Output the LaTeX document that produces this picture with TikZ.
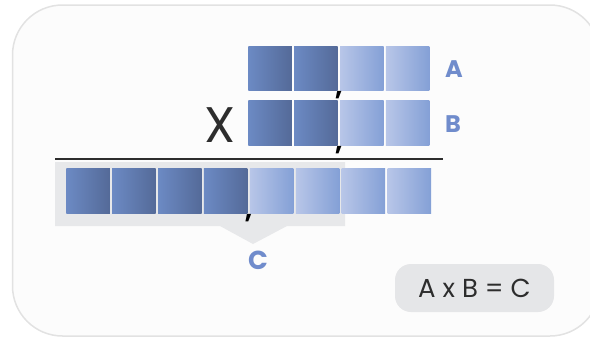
\documentclass[tikz,border=0pt]{standalone}
\usepackage{fontspec}
\setmainfont{Poppins}
\usetikzlibrary{positioning, calc}

\definecolor{framegray}{RGB}{226,226,226}
\definecolor{panelwhite}{RGB}{252,252,252}
\definecolor{tabgray}{RGB}{231,232,234}
\definecolor{boxgray}{RGB}{229,230,232}
\definecolor{inkgray}{RGB}{45,45,45}
\definecolor{labelblue}{RGB}{112,140,204}
\definecolor{deepleft}{RGB}{108,138,196}
\definecolor{deepright}{RGB}{84,106,152}
\definecolor{paleleft}{RGB}{184,198,232}
\definecolor{paleright}{RGB}{132,160,214}

\tikzset{
  darkcell/.style={inner sep=0pt, minimum width=43.5pt, minimum height=44.5pt,
    left color=deepleft, right color=deepright},
  lightcell/.style={inner sep=0pt, minimum width=43.5pt, minimum height=44.5pt,
    left color=paleleft, right color=paleright},
  rowlabel/.style={anchor=base, inner sep=0pt, text=labelblue,
    font=\fontsize{24}{24}\selectfont\bfseries},
  sepcomma/.style={anchor=base, inner sep=0pt, font=\fontsize{26}{26}\selectfont\bfseries}
}

\begin{document}
\begin{tikzpicture}[x=1pt, y=-1pt]
			\useasboundingbox (0,0) rectangle (590,338);
			
			% Panel
			\draw[framegray, line width=1.5pt, fill=panelwhite, rounded corners=50pt]
			  (12.5,5) rectangle (600,336);
			
			% Tab behind the result
			\fill[tabgray] (55,162) -- (345,162) -- (345,226) -- (287,226) -- (253,244)
			  -- (220,226) -- (55,226) -- cycle;
			
			% Factor A
			\node[darkcell] (a1) at (270,68.5) {};
			\node[darkcell, right=2pt of a1] (a2) {};
			\node[lightcell, right=2pt of a2] (a3) {};
			\node[lightcell, right=2pt of a3] (a4) {};
			\node[sepcomma] (commaA) at ($(a2.south east)!0.5!(a3.south west)+(0,5)$) {,};
			\node[rowlabel] (labA) at (454,77) {A};
			
			% Factor B
			\node[darkcell] (b1) at (270,123) {};
			\node[darkcell, right=2pt of b1] (b2) {};
			\node[lightcell, right=2pt of b2] (b3) {};
			\node[lightcell, right=2pt of b3] (b4) {};
			\node[sepcomma] (commaB) at ($(b2.south east)!0.5!(b3.south west)+(0,5)$) {,};
			\node[rowlabel] (labB) at (453,132) {B};
			
			\node[text=inkgray, font=\fontsize{50}{50}\selectfont] (times) at (220,125) {X};
			
			% Rule
			\draw[inkgray, line width=2pt] (55,159) -- (443,159);
			
			% Product C
			\node[darkcell] (c1) at (88,191) {};
			\node[darkcell, right=2pt of c1] (c2) {};
			\node[darkcell, right=2pt of c2] (c3) {};
			\node[darkcell, right=2pt of c3] (c4) {};
			\node[lightcell, right=2pt of c4] (c5) {};
			\node[lightcell, right=2pt of c5] (c6) {};
			\node[lightcell, right=2pt of c6] (c7) {};
			\node[lightcell, right=2pt of c7] (c8) {};
			\node[sepcomma] (commaC) at ($(c4.south east)!0.5!(c5.south west)+(0,5)$) {,};
			\node[rowlabel, font=\fontsize{26}{26}\selectfont\bfseries] (labC) at (258,269) {C};
			
			% Equation
			\node[fill=boxgray, rounded corners=16pt, minimum width=159pt, minimum height=48pt,
			  text=inkgray, font=\fontsize{26}{26}\selectfont] (eq) at (474.5,288) {A x B = C};
		\end{tikzpicture}
\end{document}
